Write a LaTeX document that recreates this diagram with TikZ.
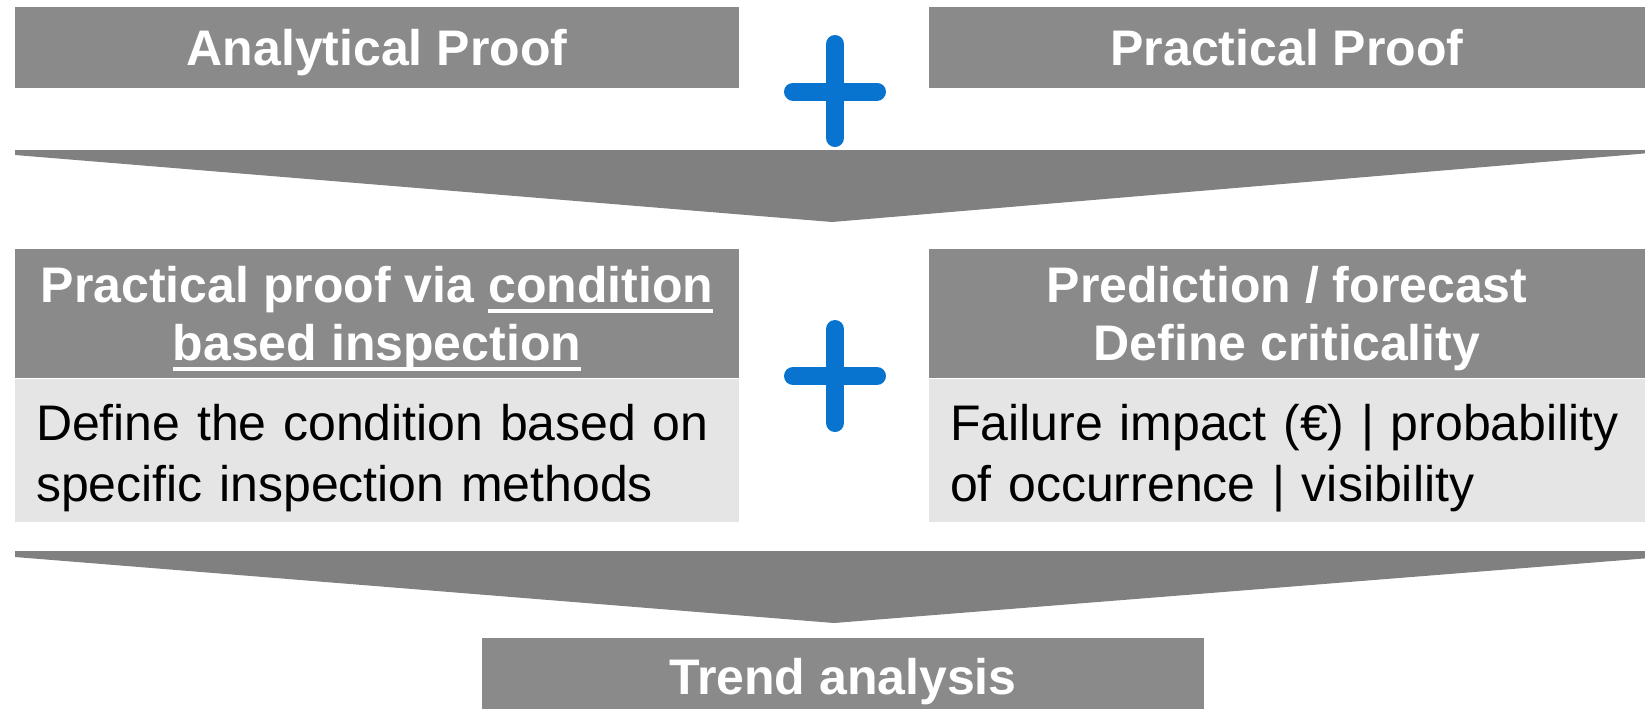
\documentclass[tikz,border=0pt]{standalone}
\usepackage{fontspec}
\setmainfont{Liberation Sans}
\usetikzlibrary{positioning}
\newcommand{\thickul}[1]{\leavevmode\setbox0\hbox{#1}\rlap{\rule[-5pt]{\wd0}{2pt}}\box0}
\definecolor{boxgray}{RGB}{138,138,138}
\definecolor{arrowgray}{RGB}{128,128,128}
\definecolor{bodygray}{RGB}{229,229,229}
\definecolor{plusblue}{RGB}{8,116,208}

\begin{document}
\begin{tikzpicture}[x=0.5pt,y=0.5pt]
	\tikzstyle{every node}+=[inner sep=0pt]
	\tikzstyle{headbox}=[fill=boxgray, text=white, font=\fontsize{25}{29}\selectfont\bfseries, align=center, text depth=0pt]
	\tikzstyle{bodybox}=[fill=bodygray, text=black, font=\fontsize{25}{30.5}\selectfont, align=left, inner xsep=10.5pt, minimum height=71.5pt, text height=18pt, text depth=27.5pt]
	\tikzstyle{plus}=[draw=plusblue, line width=9pt, line cap=round]
	\tikzstyle{bigarrow}=[fill=arrowgray]
	\useasboundingbox (0,0) rectangle (1645,-708);
	\node [headbox, minimum width=362pt, minimum height=40.5pt, text height=18pt] (anaproof) at (377,-47.5) {Analytical Proof};
	\node [headbox, minimum width=358pt, minimum height=40.5pt, text height=18pt] (pracproof) at (1287,-47.5) {Practical Proof};
	\draw [plus] (793,-91.5) -- (877,-91.5) (835,-44) -- (835,-138);
	\fill [bigarrow] (15,-150) -- (1650,-150) -- (1650,-153) -- (832,-222) -- (15,-155) -- cycle;
	\node [headbox, minimum width=362pt, minimum height=64.5pt] (condhead) at (377,-313.5) {Practical proof via \thickul{condition}\\\thickul{based inspection}};
	\node [bodybox, text width=341pt, below=0pt of condhead] (condbody) {Define the condition based on\\specific inspection methods};
	\node [headbox, minimum width=358pt, minimum height=64.5pt] (predhead) at (1287,-313.5) {Prediction / forecast\\Define criticality};
	\node [bodybox, text width=337pt, below=0pt of predhead] (predbody) {Failure impact (€) | probability\\of occurrence | visibility};
	\draw [plus] (793,-376) -- (877,-376) (835,-329) -- (835,-423);
	\fill [bigarrow] (15,-551) -- (1650,-551) -- (1650,-558) -- (834,-623) -- (15,-557) -- cycle;
	%\node at (843,-600) {};
	\node [headbox, minimum width=361pt, minimum height=38.5pt, text height=18pt] (trend) at (843,-676.5) {Trend analysis};
\end{tikzpicture}
\end{document}
